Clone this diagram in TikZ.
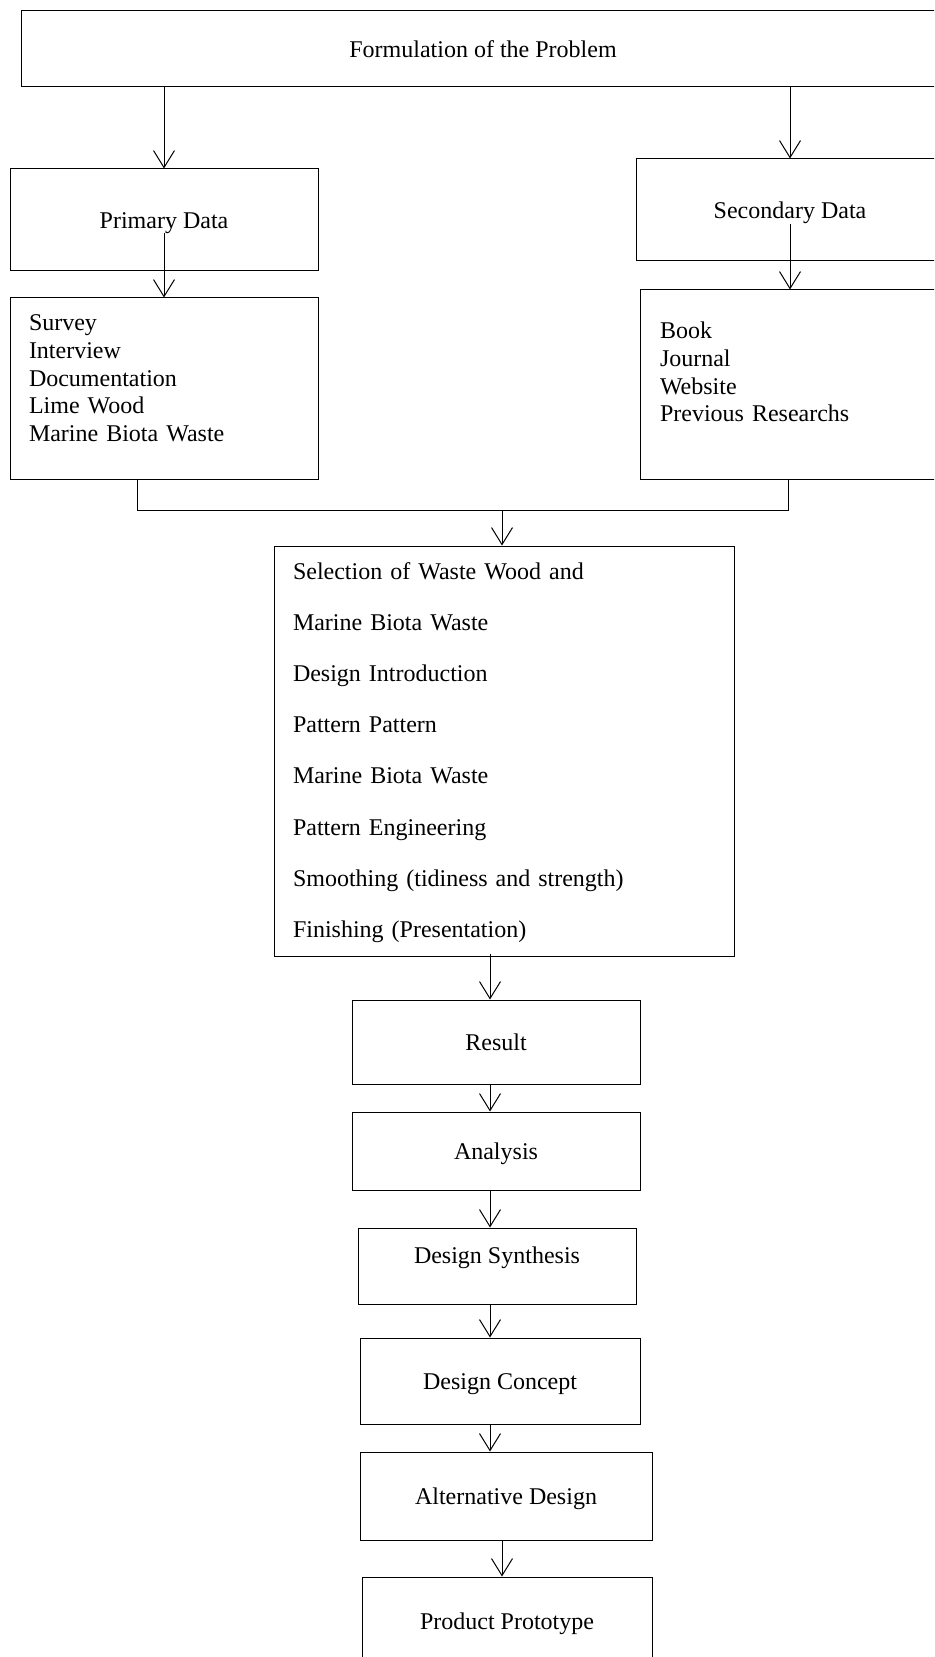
\documentclass[tikz,border=0pt]{standalone}
\usepackage{fontspec}
\setmainfont{Liberation Serif}
\usetikzlibrary{arrows.meta}
\tikzset{
    box/.style = {rectangle, draw=black, line width=0.5pt, inner sep=0pt, text height=10.8pt, text depth=2pt, font=\fontsize{12}{13.8}\selectfont},
    listbox/.style = {box, align=left, inner xsep=9.5pt, text height=8pt},
    edgen/.style = {-{Straight Barb[length=8.5pt,width=10.5pt]}, line width=0.5pt},
    joint/.style = {line width=0.5pt} % merge line, no tip
}

\begin{document}
\begin{tikzpicture}[x=0.5pt, y=-0.5pt]
  \useasboundingbox (0,0) rectangle (934,1657);
  \clip (0,0) rectangle (934,1657);

  \node[box, minimum width=462pt, minimum height=38pt] (problem) at (483,49) {Formulation of the Problem};
  \node[box, minimum width=154pt, minimum height=51pt] (primary) at (164,220) {Primary Data};
  \node[box, minimum width=154pt, minimum height=51pt] (secdata) at (790,210) {Secondary Data};
  \node[listbox, text width=135pt, minimum height=91pt, text depth=66pt] (primlist) at (164,389)
    {Survey\\Interview\\Documentation\\Lime Wood\\Marine Biota Waste};
  \node[listbox, inner xsep=10pt, text width=140pt, minimum height=95pt, text depth=54pt] (seclist) at (800,385)
    {Book\\Journal\\Website\\Previous Researchs};
  % middle block
  \node[listbox, text width=211pt, minimum height=205pt, text depth=179.5pt, font=\fontsize{12}{25.55}\selectfont] (select) at (504,751)
    {Selection of Waste Wood and\\Marine Biota Waste\\Design Introduction\\Pattern Pattern\\Marine Biota Waste\\Pattern Engineering\\Smoothing (tidiness and strength)\\Finishing (Presentation)};
  \node[box, minimum width=144pt, minimum height=42pt] (result) at (496,1042) {Result};
  \node[box, minimum width=144pt, minimum height=39pt] (analysis) at (496,1151) {Analysis};
  \node[box, minimum width=139pt, minimum height=38pt, text height=8pt, text depth=11pt] (synth) at (497,1266) {Design Synthesis};
  \node[box, minimum width=140pt, minimum height=43pt] (concept) at (500,1381) {Design Concept};
  \node[box, minimum width=146pt, minimum height=44pt] (altdesign) at (506,1496) {Alternative Design};
  \node[box, minimum width=145pt, minimum height=44pt] (prototype) at (507,1621) {Product Prototype};

  \coordinate (jl) at (137,511);
  \coordinate (jr) at (788,511);
  \coordinate (jm) at (502,511);
  \coordinate (axis) at (490,1000);

  \draw[edgen] (problem.south -| primary) -- (primary.north);
  \draw[edgen] (problem.south -| secdata) -- (secdata.north);
  \draw[edgen] ([yshift=-6.5pt]primary.center) -- (primlist.north);
  \draw[edgen] ([yshift=-7pt]secdata.center) -- (seclist.north -| secdata);
  \draw[joint] (primlist.south -| jl) -- (jl) -- (jr) -- (seclist.south -| jr);
  \draw[edgen] (jm) -- (select.north -| jm);
  \draw[edgen] ([yshift=1.5pt]select.south -| axis) -- (result.north -| axis);
  \foreach \a/\b in {result/analysis, analysis/synth, synth/concept, concept/altdesign}
    \draw[edgen] (\a.south -| axis) -- (\b.north -| axis);
  \draw[edgen] (altdesign.south -| jm) -- (prototype.north -| jm);
\end{tikzpicture}
\end{document}
